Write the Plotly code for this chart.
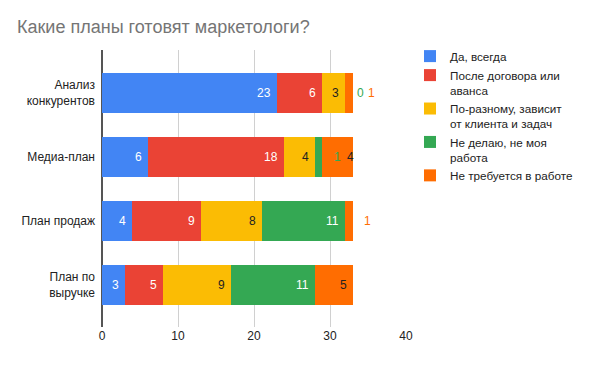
import plotly.graph_objects as go

categories = ["Анализ<br>конкурентов", "Медиа-план", "План продаж", "План по<br>выручке"]
series_names = [
    "Да, всегда",
    "После договора или<br>аванса",
    "По-разному, зависит<br>от клиента и задач",
    "Не делаю, не моя<br>работа",
    "Не требуется в работе",
]
values_always = [23, 6, 4, 3]
values_after_contract = [6, 18, 9, 5]
values_depends = [3, 4, 8, 9]
values_not_mine = [0, 1, 11, 11]
values_not_needed = [1, 4, 1, 5]
x_ticks = [0, 10, 20, 30, 40]

series_values = [values_always, values_after_contract, values_depends, values_not_mine, values_not_needed]
colors = ["#4285f4", "#ea4335", "#fbbc04", "#34a853", "#ff6d01"]
inside_text_colors = ["#ffffff", "#ffffff", "#222222", "#ffffff", "#222222"]

FONT = "Arial, Liberation Sans, sans-serif"
OFF = 8  # default page body margin
W, H = 591 - OFF, 365 - OFF
ML, MR, MT, MB = 94, 185, 42, 38
XMAX = 40
px_per_unit = (W - ML - MR) / XMAX

fig = go.Figure()
for name, vals, col in zip(series_names, series_values, colors):
    fig.add_trace(go.Bar(
        y=categories, x=vals, name=name, orientation="h",
        marker=dict(color=col, line=dict(width=0)),
        width=0.63, hoverinfo="x+name",
    ))

annotations = []
for ci, cat in enumerate(categories):
    cum = 0
    last_out_px = None
    for si, vals in enumerate(series_values):
        v = vals[ci]
        cum += v
        end_px = cum * px_per_unit
        if v >= 2:
            txt = str(v)
            est_w = 7 * len(txt)
            if last_out_px is not None and end_px - 4 - est_w < last_out_px + 8:
                annotations.append(dict(
                    x=cum, y=cat, xref="x", yref="y", text=txt, showarrow=False,
                    xanchor="left", xshift=last_out_px + 8 - end_px,
                    font=dict(family=FONT, size=12, color=inside_text_colors[si]),
                ))
            else:
                annotations.append(dict(
                    x=cum, y=cat, xref="x", yref="y", text=txt, showarrow=False,
                    xanchor="right", xshift=-4,
                    font=dict(family=FONT, size=12, color=inside_text_colors[si]),
                ))
        else:
            pos_px = end_px + 15
            if last_out_px is not None and pos_px - last_out_px < 11:
                pos_px = last_out_px + 11
            last_out_px = pos_px
            annotations.append(dict(
                x=cum, y=cat, xref="x", yref="y", text=str(v), showarrow=False,
                xanchor="center", xshift=pos_px - end_px,
                font=dict(family=FONT, size=12, color=colors[si]),
            ))

fig.update_layout(
    width=W, height=H,
    margin=dict(l=ML, r=MR, t=MT, b=MB, autoexpand=False),
    paper_bgcolor="#ffffff", plot_bgcolor="#ffffff",
    barmode="stack",
    font=dict(family=FONT, size=12, color="#222222"),
    title=dict(text="Какие планы готовят маркетологи?", x=9 / W, xanchor="left",
               y=1 - 19 / H, yanchor="middle",
               font=dict(family=FONT, size=18, color="#757575")),
    xaxis=dict(range=[0, XMAX], tickvals=x_ticks, showgrid=True, gridcolor="#d0d0d0",
               gridwidth=1, zeroline=True, zerolinecolor="#555555", zerolinewidth=1.5,
               showline=False, ticks="", tickfont=dict(size=12, color="#222222"),
               automargin=False, fixedrange=True),
    yaxis=dict(range=[3.656, -0.672], showgrid=False, zeroline=False, showline=False,
               ticks="", ticklabelstandoff=6, tickfont=dict(size=12, color="#222222"),
               automargin=False, fixedrange=True),
    legend=dict(xref="container", yref="container", x=402 / W, y=1 - 34 / H,
                xanchor="left", yanchor="top", traceorder="normal", valign="top",
                font=dict(family=FONT, size=11.7, color="#222222"),
                bgcolor="rgba(0,0,0,0)", borderwidth=0),
    annotations=annotations,
    showlegend=True,
)

fig.write_html("out.html")
